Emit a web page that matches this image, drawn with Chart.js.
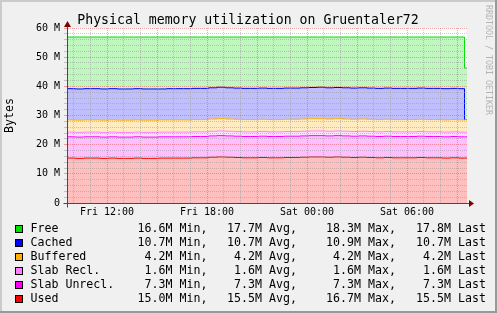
<!DOCTYPE html>
<html>
<head>
<meta charset="utf-8">
<script src="https://cdn.jsdelivr.net/npm/chart.js@4.4.0/dist/chart.umd.min.js"></script>
<style>
	html, body { margin: 0; padding: 0; background: #f0f0f0; }
	canvas { display: block; }
</style>
</head>
<body>
<canvas id="memChart" width="497" height="313"></canvas>
<script>
// hours since Fri 00:00
const hours = [
	9.6, 10.1, 10.6, 11.1, 11.6, 12.1, 12.6, 13.1, 13.6, 14.1,
	14.6, 15.1, 15.6, 16.1, 16.6, 17.1, 17.6, 18.1, 18.6, 19.1,
	19.6, 20.1, 20.6, 21.1, 21.6, 22.1, 22.6, 23.1, 23.6, 24.1,
	24.6, 25.1, 25.6, 26.1, 26.6, 27.1, 27.6, 28.1, 28.6, 29.1,
	29.6, 30.1, 30.6, 31.1, 31.6, 32.1, 32.6, 33.1, 33.45, 33.6,
];

// values in MB, stacked bottom to top
const used = [
	15.4, 15.3, 15.4, 15.4, 15.3, 15.4, 15.3, 15.3, 15.4, 15.3,
	15.3, 15.4, 15.4, 15.4, 15.4, 15.5, 15.5, 15.7, 15.8, 15.7,
	15.6, 15.5, 15.5, 15.6, 15.5, 15.5, 15.6, 15.6, 15.7, 15.8,
	15.8, 15.7, 15.8, 15.7, 15.6, 15.7, 15.6, 15.5, 15.6, 15.5,
	15.5, 15.5, 15.6, 15.5, 15.5, 15.4, 15.5, 15.4, 15.4, 15.4,
];
const slabUnrecl = [
	7.3, 7.3, 7.3, 7.3, 7.3, 7.3, 7.3, 7.3, 7.3, 7.3,
	7.3, 7.3, 7.3, 7.3, 7.3, 7.3, 7.3, 7.3, 7.3, 7.3,
	7.3, 7.3, 7.3, 7.3, 7.3, 7.3, 7.3, 7.3, 7.3, 7.3,
	7.3, 7.3, 7.3, 7.3, 7.3, 7.3, 7.3, 7.3, 7.3, 7.3,
	7.3, 7.3, 7.3, 7.3, 7.3, 7.3, 7.3, 7.3, 7.3, 7.3,
];
const slabRecl = [
	1.6, 1.6, 1.6, 1.6, 1.6, 1.6, 1.6, 1.6, 1.6, 1.6,
	1.6, 1.6, 1.6, 1.6, 1.6, 1.6, 1.6, 1.6, 1.6, 1.6,
	1.6, 1.6, 1.6, 1.6, 1.6, 1.6, 1.6, 1.6, 1.6, 1.6,
	1.6, 1.6, 1.6, 1.6, 1.6, 1.6, 1.6, 1.6, 1.6, 1.6,
	1.6, 1.6, 1.6, 1.6, 1.6, 1.6, 1.6, 1.6, 1.6, 1.6,
];
const buffered = [
	4.2, 4.2, 4.2, 4.2, 4.2, 4.2, 4.2, 4.2, 4.2, 4.2,
	4.2, 4.2, 4.2, 4.2, 4.2, 4.2, 4.2, 4.2, 4.2, 4.2,
	4.2, 4.2, 4.2, 4.2, 4.2, 4.2, 4.2, 4.2, 4.2, 4.2,
	4.2, 4.2, 4.2, 4.2, 4.2, 4.2, 4.2, 4.2, 4.2, 4.2,
	4.2, 4.2, 4.2, 4.2, 4.2, 4.2, 4.2, 4.2, 4.2, 4.2,
];
const cached = [
	10.7, 10.7, 10.7, 10.7, 10.7, 10.7, 10.7, 10.7, 10.7, 10.7,
	10.7, 10.6, 10.7, 10.7, 10.7, 10.7, 10.7, 10.7, 10.8, 10.7,
	10.7, 10.7, 10.7, 10.7, 10.7, 10.7, 10.7, 10.7, 10.7, 10.7,
	10.8, 10.7, 10.7, 10.7, 10.7, 10.7, 10.7, 10.7, 10.7, 10.7,
	10.7, 10.7, 10.7, 10.7, 10.7, 10.7, 10.7, 10.7, 0, 0,
];
const free = [
	17.7, 17.8, 17.7, 17.7, 17.8, 17.7, 17.8, 17.8, 17.7, 17.8,
	17.8, 17.8, 17.7, 17.7, 17.7, 17.6, 17.6, 17.4, 17.2, 17.4,
	17.5, 17.6, 17.6, 17.5, 17.6, 17.6, 17.5, 17.5, 17.4, 17.3,
	17.2, 17.4, 17.3, 17.4, 17.5, 17.4, 17.5, 17.6, 17.5, 17.6,
	17.6, 17.6, 17.5, 17.6, 17.6, 17.7, 17.6, 17.7, 17.8, 17.8,
];

// one grid line per hour, labels every six hours
const gridHours = [
	10, 11, 12, 13, 14, 15, 16, 17, 18, 19, 20, 21,
	22, 23, 24, 25, 26, 27, 28, 29, 30, 31, 32, 33,
];
const xTickHours = [12, 18, 24, 30];
const xTickLabels = ['Fri 12:00', 'Fri 18:00', 'Sat 00:00', 'Sat 06:00'];

const legendLabels = ['Free', 'Cached', 'Buffered', 'Slab Recl.', 'Slab Unrecl.', 'Used'];
const legendMin = ['16.6M', '10.7M', '4.2M', '1.6M', '7.3M', '15.0M'];
const legendAvg = ['17.7M', '10.7M', '4.2M', '1.6M', '7.3M', '15.5M'];
const legendMax = ['18.3M', '10.9M', '4.2M', '1.6M', '7.3M', '16.7M'];
const legendLast = ['17.8M', '10.7M', '4.2M', '1.6M', '7.3M', '15.5M'];

const MONO = '"DejaVu Sans Mono", monospace';
const minorGrid = 'rgba(150, 150, 150, 0.5)';
const majorGrid = 'rgba(230, 90, 90, 0.55)';
const arrowColor = '#7f0000';
const axisColor = '#4a4a4a';

const toPoints = (values) => values.map((v, i) => ({ x: hours[i], y: v }));

const buildDataset = (label, values, line, area, fill) => ({
	label,
	data: toPoints(values),
	borderColor: line,
	backgroundColor: area,
	fill,
	borderWidth: 1,
	pointRadius: 0,
	stepped: true,
});

const rrdDecor = {
	id: 'rrdDecor',
	beforeDraw(chart) {
		const { ctx, chartArea } = chart;
		const w = chart.width;
		const h = chart.height;
		ctx.save();
		ctx.fillStyle = '#f0f0f0';
		ctx.fillRect(0, 0, w, h);
		ctx.fillStyle = '#ffffff';
		ctx.fillRect(chartArea.left, chartArea.top, chartArea.right - chartArea.left, chartArea.bottom - chartArea.top);
		// frame shading
		ctx.fillStyle = '#cbcbcb';
		ctx.fillRect(0, 0, w, 2);
		ctx.fillRect(0, 0, 2, h);
		ctx.fillStyle = '#999999';
		ctx.fillRect(w - 2, 0, 2, h);
		ctx.fillRect(0, h - 2, w, 2);
		ctx.restore();
	},
	afterDraw(chart) {
		const { ctx, chartArea } = chart;
		const left = Math.round(chartArea.left) + 0.5;
		const bottom = Math.round(chartArea.bottom) + 0.5;
		ctx.save();

		// axis extensions and arrows
		ctx.strokeStyle = axisColor;
		ctx.lineWidth = 1;
		ctx.beginPath();
		ctx.moveTo(left, bottom + 4);
		ctx.lineTo(left, chartArea.top - 6);
		ctx.moveTo(left - 4, bottom);
		ctx.lineTo(chartArea.right + 3, bottom);
		ctx.stroke();
		ctx.fillStyle = arrowColor;
		ctx.beginPath();
		ctx.moveTo(chartArea.right + 2, bottom - 3.5);
		ctx.lineTo(chartArea.right + 7, bottom);
		ctx.lineTo(chartArea.right + 2, bottom + 3.5);
		ctx.closePath();
		ctx.fill();
		ctx.beginPath();
		ctx.moveTo(left - 3.5, chartArea.top - 1);
		ctx.lineTo(left, chartArea.top - 7);
		ctx.lineTo(left + 3.5, chartArea.top - 1);
		ctx.closePath();
		ctx.fill();

		// title
		ctx.fillStyle = '#000';
		ctx.font = `13.2px ${MONO}`;
		ctx.textAlign = 'center';
		ctx.textBaseline = 'alphabetic';
		ctx.fillText('Physical memory utilization on Gruentaler72', 248, 24);

		// vertical axis title
		ctx.save();
		ctx.translate(10, (chartArea.top + chartArea.bottom) / 2);
		ctx.rotate(-Math.PI / 2);
		ctx.font = `11.6px ${MONO}`;
		ctx.textBaseline = 'middle';
		ctx.fillText('Bytes', 0, 0);
		ctx.restore();

		// watermark
		ctx.save();
		ctx.translate(488, 5);
		ctx.rotate(Math.PI / 2);
		ctx.font = `8.3px ${MONO}`;
		ctx.fillStyle = '#b4b4b4';
		ctx.textAlign = 'left';
		ctx.textBaseline = 'middle';
		ctx.fillText('RRDTOOL / TOBI OETIKER', 0, 0);
		ctx.restore();

		// legend
		const byLabel = {};
		chart.data.datasets.forEach((ds) => { byLabel[ds.label] = ds.borderColor; });
		ctx.font = `11.6px ${MONO}`;
		ctx.textBaseline = 'middle';
		legendLabels.forEach((label, i) => {
			const y = 229 + i * 13.95;
			ctx.fillStyle = byLabel[label];
			ctx.fillRect(15, Math.round(y) - 4, 8, 8);
			ctx.strokeStyle = '#000';
			ctx.strokeRect(15.5, Math.round(y) - 3.5, 7, 7);
			ctx.fillStyle = '#000';
			ctx.textAlign = 'left';
			ctx.fillText(label, 30.5, y);
			const cols = [
				[legendMin[i], 'Min,', 172.5],
				[legendAvg[i], 'Avg,', 262],
				[legendMax[i], 'Max,', 361],
				[legendLast[i], 'Last', 451],
			];
			cols.forEach(([num, word, xr]) => {
				ctx.textAlign = 'right';
				ctx.fillText(num, xr, y);
				ctx.textAlign = 'left';
				ctx.fillText(word, xr + 7, y);
			});
		});
		ctx.restore();
	},
};

new Chart(document.getElementById('memChart'), {
	type: 'line',
	data: {
		datasets: [
			buildDataset('Used', used, '#ff0000', '#ffbfbf', 'origin'),
			buildDataset('Slab Unrecl.', slabUnrecl, '#ff00ff', '#ffbfff', '-1'),
			buildDataset('Slab Recl.', slabRecl, '#ff80ff', '#ffdfff', '-1'),
			buildDataset('Buffered', buffered, '#ffb000', '#ffebbf', '-1'),
			buildDataset('Cached', cached, '#0000ff', '#bfbfff', '-1'),
			buildDataset('Free', free, '#00e000', '#bff7bf', '-1'),
		],
	},
	options: {
		responsive: false,
		animation: false,
		devicePixelRatio: 1,
		layout: {
			padding: { top: 28, right: 30, left: 0, bottom: 0 },
		},
		plugins: {
			legend: { display: false },
			tooltip: { enabled: false },
		},
		scales: {
			x: {
				type: 'linear',
				min: 9.6,
				max: 33.6,
				afterFit: (scale) => { scale.height = 110; },
				afterBuildTicks: (scale) => {
					scale.ticks = gridHours.map((value) => ({ value }));
				},
				ticks: {
					autoSkip: false,
					maxRotation: 0,
					padding: 3,
					color: '#000',
					font: { family: MONO, size: 10 },
					callback: (value) => {
						const idx = xTickHours.indexOf(value);
						return idx >= 0 ? xTickLabels[idx] : '';
					},
				},
				grid: {
					z: 1,
					drawTicks: false,
					color: (ctx) => (ctx.tick && ctx.tick.value % 3 === 0 ? majorGrid : minorGrid),
				},
				border: { z: 2, color: axisColor, dash: [1, 1] },
			},
			y: {
				stacked: true,
				min: 0,
				max: 60,
				afterFit: (scale) => { scale.width = 67; },
				ticks: {
					stepSize: 2,
					autoSkip: false,
					padding: 4,
					color: '#000',
					font: { family: MONO, size: 10 },
					callback: (value) => {
						if (value % 10 !== 0) return '';
						return value === 0 ? '0' : `${value} M`;
					},
				},
				grid: {
					z: 1,
					tickLength: 3,
					color: (ctx) => (ctx.tick && ctx.tick.value % 10 === 0 ? majorGrid : minorGrid),
				},
				border: { z: 2, color: axisColor, dash: [1, 1] },
			},
		},
	},
	plugins: [rrdDecor],
});
</script>
</body>
</html>
